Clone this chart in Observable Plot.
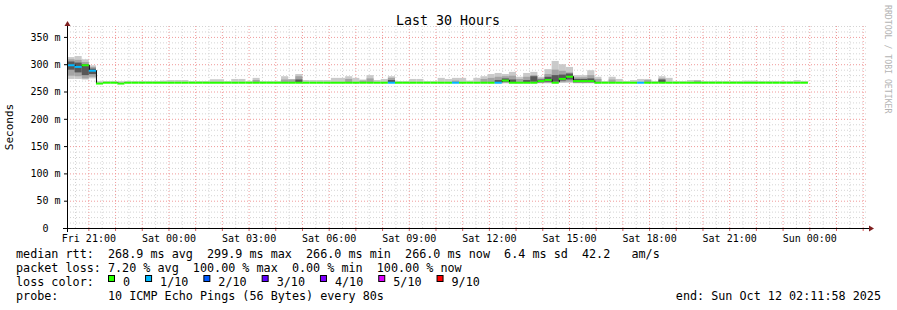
<!DOCTYPE html>
<html>
<head>
<meta charset="utf-8">
<script src="https://cdn.jsdelivr.net/npm/d3@7"></script>
<script src="https://cdn.jsdelivr.net/npm/@observablehq/plot@0.6"></script>
<style>
  html, body { margin: 0; padding: 0; background: #fff; }
  #wrap { width: 897px; height: 310px; overflow: hidden; }
</style>
</head>
<body>
<div id="wrap"></div>
<script>
// ---------- DATA ----------
const endTime = new Date(Date.UTC(2025, 9, 12, 2, 11, 58));   // end: Sun Oct 12 02:11:58 2025
const startTime = new Date(+endTime - 30 * 3600e3);              // Last 30 Hours
const firstBinStart = new Date(Date.UTC(2025, 9, 10, 20, 13, 0));
const binSeconds = 960; // 12 x 80s

// median rtt per bin (ms)
const medianRtt = [
  299, 296, 299, 289, 265.5, 267, 267, 265.5, 267, 267,
  267, 267, 267, 267, 267, 267, 267, 267, 267, 267,
  267, 267, 267, 267, 267, 267, 267, 267, 267, 267,
  267, 267, 267, 267, 267, 267, 267, 267, 267, 267,
  267, 267, 267, 267, 267, 267, 267, 267, 267, 267,
  267, 267, 267, 267, 267, 267, 267, 267, 267, 267,
  267, 271, 267, 267, 267, 267, 270, 272, 267, 274,
  278, 270, 270, 270, 267, 267, 267, 267, 267, 267,
  267, 267, 267, 267, 267, 267, 267, 267, 267, 267,
  267, 267, 267, 267, 267, 267, 267, 267, 267, 267,
  267, 267, 267, 267
];
// lost pings out of 10 per bin
const lossTenths = [
  1, 1, 0, 1, 0, 0, 0, 0, 0, 0,
  0, 0, 0, 0, 0, 0, 0, 0, 0, 0,
  0, 0, 0, 0, 0, 0, 0, 0, 0, 0,
  0, 0, 0, 0, 0, 0, 0, 0, 0, 0,
  0, 0, 0, 0, 0, 1, 0, 0, 0, 0,
  0, 0, 0, 0, 1, 0, 0, 0, 0, 0,
  1, 0, 0, 0, 0, 0, 0, 0, 0, 0,
  0, 0, 0, 0, 0, 0, 0, 0, 0, 0,
  1, 0, 0, 0, 0, 0, 0, 0, 0, 0,
  0, 0, 0, 0, 0, 0, 0, 0, 0, 0,
  0, 0, 0, 0
];
// outer smoke (fastest / slowest ping) per bin
const smokeLo = [
  273, 273, 272, 274, 265, 266, 266, 265, 266, 266,
  266, 266, 266, 266, 266, 266, 266, 266, 266, 266,
  266, 266, 266, 266, 266, 266, 266, 266, 266, 266,
  266, 266, 266, 266, 266, 266, 266, 266, 266, 266,
  266, 266, 266, 266, 266, 266, 266, 266, 266, 266,
  266, 266, 266, 266, 266, 266, 266, 266, 265, 265,
  265, 265, 265, 265, 265, 265, 265, 265, 265, 266,
  266, 265, 265, 265, 265, 266, 266, 266, 266, 266,
  266, 266, 266, 266, 266, 266, 266, 266, 266, 266,
  266, 266, 266, 266, 266, 266, 266, 266, 266, 266,
  266, 266, 266, 266
];
const smokeHi = [
  313, 315, 309, 298, 269, 269, 269, 269, 269, 269,
  269, 269, 269, 270, 271, 271, 271, 269, 269, 269,
  272.5, 272.5, 269, 273, 273, 269, 275, 269, 269, 269,
  278, 273, 282, 271, 271, 271, 271, 275, 275, 278,
  275, 272, 280, 271, 273, 278, 269, 269, 273, 273,
  269, 269, 275, 273, 275, 275, 270, 275, 278, 282,
  284, 282, 286, 277, 284, 286, 277, 291, 306, 300,
  295, 280, 280, 289, 277, 269, 277, 273, 269, 271,
  273, 273, 269, 278, 275, 269, 269, 271, 271, 269,
  269, 269, 269, 269, 269, 270, 270, 269, 269, 269,
  269, 269, 271, 269
];
// middle smoke layer (sparse: bin index, low, high)
const midBins = [0, 1, 2, 3, 26, 30, 31, 32, 39, 41, 42, 45, 54, 58, 59, 60, 61, 62, 63, 64, 65, 66, 67, 68, 69, 70, 71, 72, 73, 74, 76, 81, 83, 88];
const midLo   = [279, 278, 274, 277, 266, 266, 266, 266, 266, 266, 266, 266, 266, 266, 266, 266, 266, 266, 266, 266, 266, 266, 266, 266, 267, 268, 266, 266, 266, 266, 266, 266, 266, 266];
const midHi   = [309, 308, 304, 295, 271, 272, 272, 278, 273, 270, 274, 275, 270, 273, 275, 277, 278, 279, 273, 277, 280, 274, 282, 290, 288, 285, 276, 276, 280, 273, 272, 271, 274, 270];
// inner smoke layer (sparse)
const coreBins = [0, 1, 2, 3, 32, 45, 60, 61, 62, 64, 65, 66, 67, 68, 69, 70, 71, 72, 73, 83];
const coreLo   = [290, 285, 280, 282, 267, 267, 267, 268, 267, 267, 268, 267, 268, 268, 270, 272, 267, 267, 267, 267];
const coreHi   = [305, 303, 300, 292, 272, 271, 271, 274, 272, 271, 278, 272, 277, 280, 281, 283, 273, 273, 274, 272];

const yTicks = [0, 50, 100, 150, 200, 250, 300, 350];
const lossLabels = ["0", "1/10", "2/10", "3/10", "4/10", "5/10", "9/10"];
const lossColors = ["#26ff00", "#00b8ff", "#0059ff", "#5e00ff", "#7e00ff", "#dd00ff", "#ff0000"];

const titleText = "Last 30 Hours";
const yLabelText = "Seconds";
const watermarkText = "RRDTOOL / TOBI OETIKER";
const rttLine = "median rtt:  268.9 ms avg  299.9 ms max  266.0 ms min  266.0 ms now  6.4 ms sd  42.2   am/s";
const lossLine = "packet loss: 7.20 % avg  100.00 % max  0.00 % min  100.00 % now";
const lossColorLabel = "loss color:";
const probeLine = "probe:       10 ICMP Echo Pings (56 Bytes) every 80s";
const endLine = "end: Sun Oct 12 02:11:58 2025";

// ---------- BUILD TABLES ----------
const binStart = i => new Date(+firstBinStart + i * binSeconds * 1000);
const bins = medianRtt.map((m, i) => ({
  t0: binStart(i), t1: binStart(i + 1), med: m, loss: lossTenths[i],
  lo: smokeLo[i], hi: smokeHi[i]
}));
const midLayer = midBins.map((b, j) => ({t0: binStart(b), t1: binStart(b + 1), lo: midLo[j], hi: midHi[j]}));
const coreLayer = coreBins.map((b, j) => ({t0: binStart(b), t1: binStart(b + 1), lo: coreLo[j], hi: coreHi[j]}));
const steps = [];
for (let i = 1; i < bins.length; i++) {
  if (bins[i].med !== bins[i - 1].med) steps.push({t: bins[i].t0, a: bins[i - 1].med, b: bins[i].med});
}

const halfHours = d3.utcMinute.every(30).range(startTime, endTime).filter(d => d.getUTCMinutes() === 30);
const hours = d3.utcHour.range(startTime, endTime);
const labelTicks = d3.utcHour.every(3).range(startTime, endTime);
const minorY = d3.range(10, 371, 10).filter(v => v % 50 !== 0);
const majorY = d3.range(50, 371, 50);

const mono = "DejaVu Sans Mono";

const chart = Plot.plot({
  width: 897,
  height: 310,
  marginLeft: 67,
  marginRight: 29,
  marginTop: 26,
  marginBottom: 82,
  x: {type: "utc", domain: [startTime, endTime], label: null},
  y: {domain: [0, 370], label: null},
  color: {type: "identity"},
  style: {fontFamily: mono, fontSize: "10px", background: "#fff", color: "#000"},
  marks: [
    Plot.ruleY(minorY, {stroke: "#d4d4d4", strokeDasharray: "1,2"}),
    Plot.ruleX(halfHours, {stroke: "#d4d4d4", strokeDasharray: "1,2"}),
    Plot.ruleY(majorY, {stroke: "#f09a9a", strokeDasharray: "1,2"}),
    Plot.ruleX(hours, {stroke: "#f09a9a", strokeDasharray: "1,2"}),
    Plot.rect(bins, {x1: "t0", x2: "t1", y1: "lo", y2: "hi", fill: "#cacaca"}),
    Plot.rect(midLayer, {x1: "t0", x2: "t1", y1: "lo", y2: "hi", fill: "#a4a4a4"}),
    Plot.rect(coreLayer, {x1: "t0", x2: "t1", y1: "lo", y2: "hi", fill: "#585858"}),
    Plot.ruleX(steps, {x: "t", y1: "a", y2: "b", stroke: "#000", strokeWidth: 1}),
    Plot.ruleY(bins, {x1: "t0", x2: "t1", y: "med", stroke: d => lossColors[d.loss], strokeWidth: 2}),
    Plot.axisY(yTicks, {
      anchor: "left", tickSize: 3, tickPadding: 4, label: null, fontSize: 10,
      tickFormat: d => d === 0 ? "0\u00a0\u00a0" : d + " m"
    }),
    Plot.axisX(labelTicks, {
      anchor: "bottom", tickSize: 0, tickPadding: 6, label: null, fontSize: 10,
      tickFormat: d3.utcFormat("%a %H:%M")
    }),
    Plot.axisX(hours, {anchor: "bottom", tickSize: 3, stroke: "#d86060", label: null, tickFormat: () => ""})
  ]
});

document.getElementById("wrap").appendChild(chart);

// ---------- DECORATIONS & TEXT ----------
const svg = d3.select(chart);
const X = chart.scale("x"), Y = chart.scale("y");
const xl = X.apply(startTime), xr = X.apply(endTime), yb = Y.apply(0), yt = Y.apply(370);
const arrowCol = "#7f1f1f";

svg.append("line").attr("x1", xl - 4).attr("x2", xr + 2).attr("y1", yb + 0.5).attr("y2", yb + 0.5)
  .attr("stroke", "#000");
svg.append("line").attr("x1", xl + 0.5).attr("x2", xl + 0.5).attr("y1", yb + 4).attr("y2", yt - 2)
  .attr("stroke", "#000");
svg.append("path").attr("d", `M${xr + 1},${yb - 2.5}L${xr + 6},${yb + 0.5}L${xr + 1},${yb + 3.5}Z`).attr("fill", arrowCol);
svg.append("path").attr("d", `M${xl - 2.5},${yt}L${xl + 0.5},${yt - 5}L${xl + 3.5},${yt}Z`).attr("fill", arrowCol);

const txt = (x, y, s, size, opts = {}) => {
  const t = svg.append("text")
    .attr("x", x).attr("y", y)
    .attr("font-family", mono).attr("font-size", size)
    .attr("fill", opts.fill || "#000")
    .attr("text-anchor", opts.anchor || "start")
    .attr("xml:space", "preserve")
    .style("white-space", "pre")
    .text(s);
  if (opts.transform) t.attr("transform", opts.transform).attr("x", 0).attr("y", 0);
  return t;
};

txt(448, 24.5, titleText, 13.3, {anchor: "middle"});
txt(0, 0, yLabelText, 11, {anchor: "middle", transform: "translate(12.7,127) rotate(-90)"});
txt(0, 0, watermarkText, 8.2, {fill: "#b4b4b4", transform: "translate(884.5,5) rotate(90)"});

const legendSize = 11.75;
const cw = legendSize * 0.602;
txt(16, 258, rttLine, legendSize);
txt(16, 272, lossLine, legendSize);
txt(16, 286, lossColorLabel, legendSize);
txt(16, 300, probeLine, legendSize);
txt(881, 300, endLine, legendSize, {anchor: "end"});

let lx = 108;
lossLabels.forEach((lab, i) => {
  svg.append("rect").attr("x", lx + 0.5).attr("y", 275.5).attr("width", 6).attr("height", 6)
    .attr("fill", lossColors[i]).attr("stroke", "#000").attr("stroke-width", 1);
  txt(lx + 15, 286, lab, legendSize);
  lx = lx + 15 + lab.length * cw + 15;
});
</script>
</body>
</html>
